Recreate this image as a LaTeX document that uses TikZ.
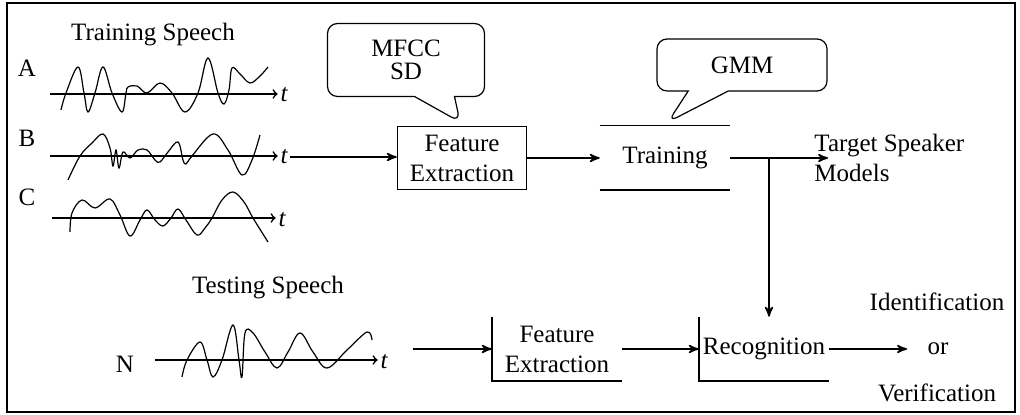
\documentclass[tikz,border=0pt]{standalone}
\usepackage{fontspec}
\setmainfont{Liberation Serif}
\usetikzlibrary{arrows,shapes,shapes.callouts}

\begin{document}
\begin{tikzpicture}[->,>=stealth',thick,x=0.5pt,y=-0.5pt,
    every node/.style={font=\fontsize{12.5}{15}\selectfont},
    block/.style={minimum width=64.5pt,minimum height=31.5pt,align=center,inner sep=0pt},
    bubble/.style={rectangle callout,draw,semithick,rounded corners=5pt,align=center,callout pointer width=20pt},
    tlbl/.style={inner sep=1pt,font=\fontsize{12.5}{15}\selectfont\itshape},
    axis/.style={->,>=to,thick},
    wave/.style={-,semithick}]
                \useasboundingbox (0,0) rectangle (1020,415);
                \draw[-,line width=1.2pt] (7,3) rectangle (1015,412);

                % speech signals
                \node[style={}](trainlbl)at(153, 35){Training Speech};
                \node[style={}](A)at(27, 68){A};
                \node[style={}](B)at(27, 138){B};
                \node[style={}](C)at(27, 197){C};
                \node[tlbl](tA)at(284, 95){t};
                \node[tlbl](tB)at(284, 157){t};
                \node[tlbl](tC)at(282, 220){t};
                \coordinate (a0) at (50, 94);
                \coordinate (b0) at (50, 156);
                \coordinate (c0) at (52, 218);
                \draw[axis] (a0) -- (a0 -| tA.west);
                \draw[axis] (b0) -- (b0 -| tB.west);
                \draw[axis] (c0) -- (c0 -| tC.west);
                \draw[wave] plot[smooth,tension=0.6] coordinates {(61,110) (66,93) (78,67) (84,93) (88,112) (95,93) (103,67) (112,93) (122,112) (126,93) (128,87) (137,86) (147,93) (160,83) (172,93) (185,112) (198,93) (208,58) (218,93) (224,104) (229,90) (232,68) (240,74) (250,83) (260,76) (268,67)};
                \draw[wave] plot[smooth,tension=0.6] coordinates {(68,180) (80,156) (92,143) (103,134) (110,148) (113,166) (116,150) (119,168) (123,152) (130,158) (138,150) (147,150) (155,160) (160,162) (168,152) (178,142) (183,160) (186,164) (192,156) (213,134) (228,150) (242,175) (252,160) (260,135)};
                \draw[wave] plot[smooth,tension=0.6] coordinates {(70,232) (72,213) (82,200) (95,208) (110,199) (120,215) (130,236) (140,220) (147,210) (155,220) (163,226) (171,218) (178,209) (186,220) (197,235) (205,228) (212,218) (222,200) (233,192) (244,202) (253,218) (268,242)};

                \node[style={}](testlbl)at(268, 288){Testing Speech};
                \node[style={}](N)at(125, 364){N};
                \node[tlbl](tN)at(384, 362){t};
                \coordinate (n0) at (155, 360);
                \draw[axis] (n0) -- (n0 -| tN.west);
                \draw[wave] plot[smooth,tension=0.6] coordinates {(182,377) (187,360) (200,342) (207,360) (213,377) (222,360) (233,325) (239,360) (242,377) (245,333) (253,333) (265,352) (277,368) (288,352) (300,333) (313,352) (327,368) (347,350) (367,332) (372,340)};

                % training branch
                \node[block,draw](fextr)at(462, 158){Feature\\Extraction};
                \node[block](training)at(665, 158){Training};
                \draw[-] (training.north west) -- (training.north east)
                      (training.south west) -- (training.south east);
                \node[bubble,minimum width=78.5pt,minimum height=36.5pt,callout absolute pointer={(460,122)}](mfcc)at(406, 60){MFCC\\[-3.5pt]SD};
                \node[bubble,minimum width=85pt,minimum height=26pt,callout absolute pointer={(668,122)}](gmm)at(742, 65){GMM};
                \coordinate (tsm) at (828, 158);
                \coordinate (split) at (769, 158);
                \node[align=left,anchor=west](target)at(807, 158){Target Speaker\\Models};
                \draw (tB) -- (tB -| fextr.west);
                \draw (fextr) -- (training);
                \draw (training) -- (tsm);

                % testing branch
                \node[block](bfextr)at(557, 349){Feature\\Extraction};
                \node[block](recog)at(764, 349){Recognition};
                \draw[-] (bfextr.north west) -- (bfextr.south west) -- (bfextr.south east);
                \draw[-] (recog.north west) -- (recog.south west) -- (recog.south east);
                \coordinate (nin) at (413, 349);
                \coordinate (idout) at (907, 349);
                \node[style={}](ident)at(937, 302){Identification};
                \node[style={}](orlbl)at(938, 349){or};
                \node[style={}](verif)at(937, 393){Verification};
                \draw (nin) -- (bfextr);
                \draw (bfextr) -- (recog);
                \draw (recog) -- (idout);
                \draw (split) -- (split |- recog.north);
            \end{tikzpicture}
\end{document}
